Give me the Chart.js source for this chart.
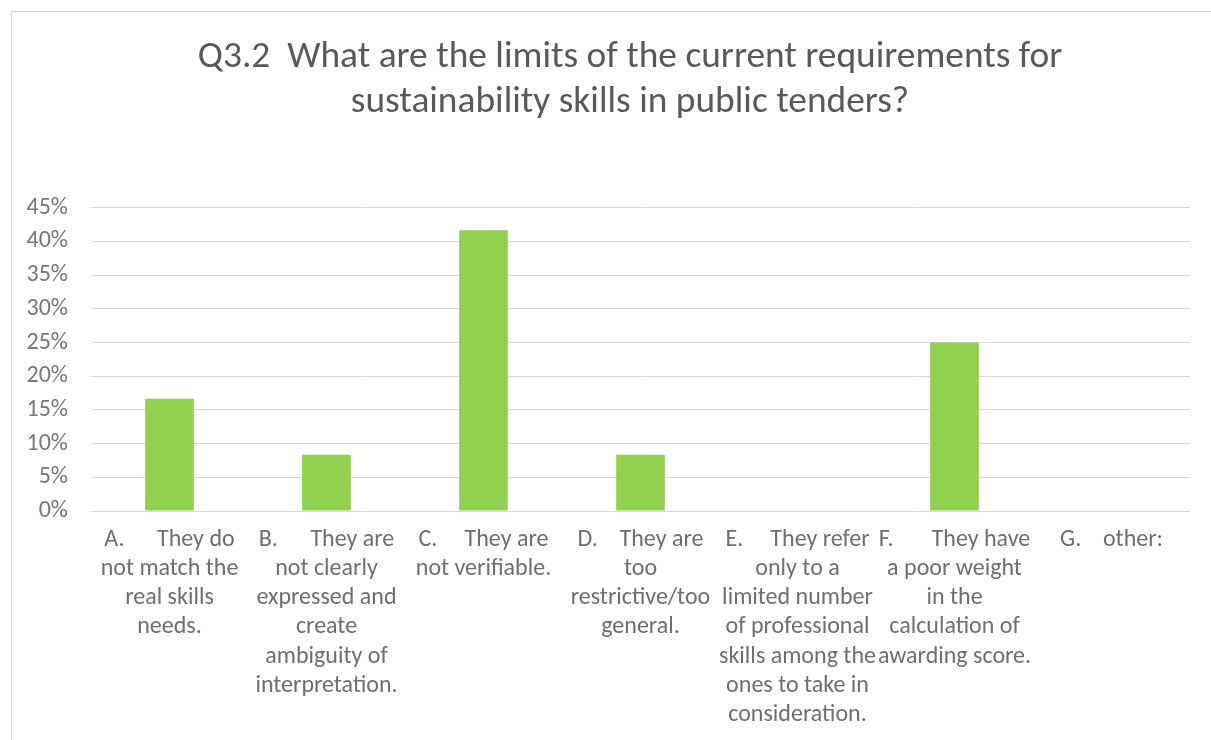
<!DOCTYPE html>
<html>
<head>
<meta charset="utf-8">
<script src="https://cdn.jsdelivr.net/npm/chart.js@4/dist/chart.umd.min.js"></script>
<style>
  html, body { margin: 0; padding: 0; background: #fff; overflow: hidden; }
  #frame { position: absolute; left: 11px; top: 11px; width: 1260px; height: 800px; border: 1px solid #d9d9d9; }
  #wrap { position: absolute; left: 0; top: 0; width: 1211px; height: 740px; }
</style>
</head>
<body>
<div id="frame"></div>
<div id="wrap"><canvas id="barChart"></canvas></div>
<script>
'use strict';

// answer options (one array entry per drawn line)
const categories = [
  ['A.      They do', 'not match the', 'real skills', 'needs.'],
  ['B.      They are', 'not clearly', 'expressed and', 'create', 'ambiguity of', 'interpretation.'],
  ['C.     They are', 'not verifiable.'],
  ['D.    They are', 'too', 'restrictive/too', 'general.'],
  ['E.     They refer', 'only to a', 'limited number', 'of professional', 'skills among the', 'ones to take in', 'consideration.'],
  ['F.       They have', 'a poor weight', 'in the', 'calculation of', 'awarding score.'],
  ['G.    other:']
];
// share of answers, %
const shares = [16.67, 8.33, 41.67, 8.33, 0, 25, 0];
const yTicks = [0, 5, 10, 15, 20, 25, 30, 35, 40, 45];

const titleLines = ['Q3.2  What are the limits of the current requirements for', 'sustainability skills in public tenders?'];

const FONT = "Calibri, Carlito, Lato, 'Open Sans', sans-serif";

// keep the title centred over the plot area rather than the whole canvas
const centerTitle = {
  id: 'centerTitle',
  afterLayout: function(chart) {
    const t = chart.titleBlock;
    if (t) {
      t.left = chart.chartArea.left - 21;
      t.right = chart.chartArea.right;
    }
  }
};

let context = document.querySelector('#barChart').getContext('2d');
new Chart(context, {
  type: 'bar',
  data: {
    labels: categories,
    datasets: [{
      label: '',
      data: shares,
      backgroundColor: '#92d050',
      categoryPercentage: 1,
      barPercentage: 0.31
    }]
  },
  options: {
    responsive: true,
    maintainAspectRatio: false,
    animation: false,
    layout: { padding: { left: 27, right: 21, top: 0, bottom: 0 } },
    plugins: {
      legend: { display: false },
      tooltip: { enabled: false },
      title: {
        display: true,
        text: titleLines,
        color: '#595959',
        font: { family: FONT, size: 37.4, weight: 'normal', lineHeight: 1.2 },
        padding: { top: 35, bottom: 83 }
      }
    },
    scales: {
      x: {
        grid: { display: false, drawTicks: false },
        border: { display: false },
        ticks: {
          autoSkip: false,
          maxRotation: 0,
          minRotation: 0,
          padding: 14,
          color: '#6f6f6f',
          font: { family: FONT, size: 24, lineHeight: 1.22 }
        },
        afterFit: function(scale) { scale.height = 229; }
      },
      y: {
        min: 0,
        max: 45,
        afterBuildTicks: function(scale) {
          scale.ticks = yTicks.map(function(v) { return { value: v }; });
        },
        grid: { color: '#d9d9d9', lineWidth: 1, drawTicks: false },
        border: { display: false },
        ticks: {
          padding: 23,
          color: '#787878',
          font: { family: FONT, size: 24 },
          callback: function(value) { return value + '%'; }
        },
        afterFit: function(scale) { scale.width = 64; }
      }
    }
  },
  plugins: [centerTitle]
});
</script>
</body>
</html>
